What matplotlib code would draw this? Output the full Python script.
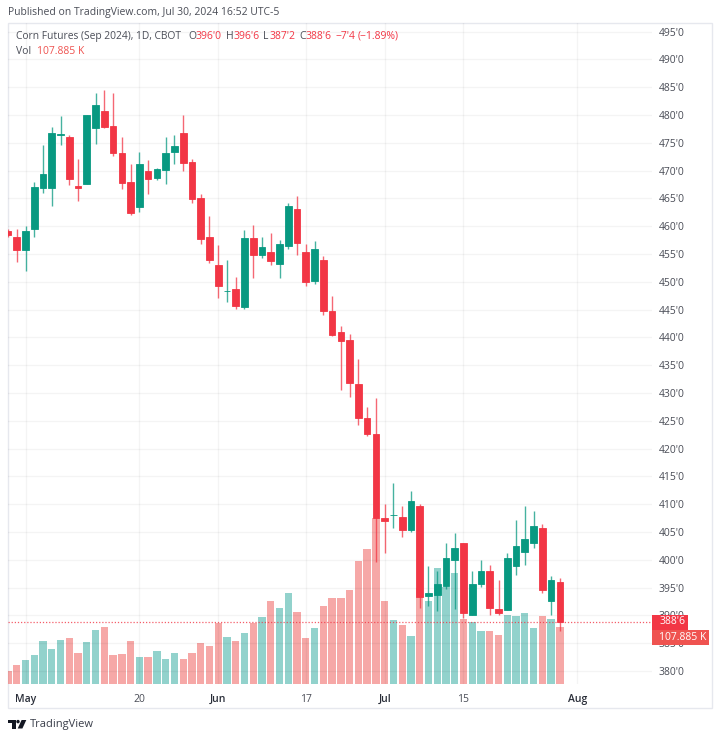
import numpy as np
import matplotlib
matplotlib.use('Agg')
import matplotlib.pyplot as plt
from matplotlib.patches import Rectangle, Polygon, Circle

plt.rcParams['font.family'] = ['Open Sans', 'DejaVu Sans']

# first bar is Apr 29, index 2 is May 1
opens = [459.13, 458.11, 455.72, 459.49, 466.87, 466.87, 476.40, 476.04, 467.23, 467.59, 477.71, 480.72, 478.02, 473.16,
         467.95, 463.45, 469.92, 468.75, 470.10, 473.34, 476.76, 471.54, 465.07, 458.05, 453.02, 448.30, 448.76, 445.46,
         457.87, 454.82, 455.36, 453.20, 456.43, 463.09, 455.36, 450.14, 453.92, 444.74, 440.97, 439.53, 431.61, 425.50,
         422.62, 407.51, 408.00, 407.75, 405.35, 409.67, 393.54, 393.66, 395.28, 399.96, 403.07, 390.07, 395.64, 397.98,
         391.15, 390.97, 398.88, 401.46, 403.02, 405.77, 392.64, 396.00]
highs = [459.50, 459.49, 460.09, 467.95, 474.60, 477.84, 479.82, 476.40, 472.08, 480.00, 483.95, 484.49, 483.95, 476.04,
         471.18, 473.34, 471.90, 470.46, 476.04, 476.40, 480.00, 472.08, 465.79, 461.83, 456.62, 453.92, 450.86, 459.31,
         460.21, 458.05, 458.77, 457.51, 464.17, 465.43, 456.80, 457.33, 454.64, 447.44, 442.05, 440.61, 436.11, 427.48,
         429.10, 410.03, 413.81, 409.72, 412.37, 410.03, 398.88, 397.98, 403.07, 404.82, 403.07, 397.98, 399.96, 399.06,
         396.36, 401.22, 407.15, 409.67, 408.77, 406.43, 397.08, 396.75]
lows = [458.00, 453.61, 452.00, 458.05, 465.97, 463.63, 474.60, 467.41, 464.53, 467.59, 474.78, 477.66, 472.62, 466.69,
        462.01, 462.55, 465.79, 468.31, 467.59, 471.18, 469.92, 464.17, 456.80, 453.38, 447.08, 446.36, 445.16, 445.10,
        450.68, 454.28, 453.02, 450.68, 455.89, 454.82, 449.24, 449.60, 444.03, 440.25, 430.53, 429.28, 424.24, 422.26,
        399.60, 401.22, 405.71, 404.10, 405.05, 391.38, 391.74, 390.79, 394.80, 391.15, 389.58, 390.07, 395.10, 390.07,
        390.07, 390.97, 397.32, 399.06, 402.17, 394.08, 390.07, 387.25]
closes = [458.41, 455.72, 459.13, 467.05, 469.39, 476.76, 476.50, 468.49, 466.87, 480.00, 481.85, 477.84, 473.16, 467.77,
          462.37, 471.18, 468.49, 470.28, 473.16, 474.48, 471.36, 464.89, 457.69, 453.92, 449.24, 448.38, 445.70, 457.87,
          454.82, 456.25, 453.74, 456.80, 463.63, 456.97, 449.96, 455.89, 444.74, 440.43, 439.35, 431.79, 425.50, 422.62,
          407.51, 406.97, 408.10, 405.41, 410.57, 393.31, 394.02, 395.70, 400.32, 402.12, 390.43, 395.70, 397.98, 391.33,
          390.43, 400.32, 402.48, 403.79, 406.08, 394.56, 396.36, 388.75]
volumes = [25, 36, 45, 55, 81, 66, 83, 87, 59, 79, 102, 108, 55, 56, 81, 51, 51, 62, 47, 59, 47, 59, 77, 72, 115, 88, 81,
           96, 115, 126, 156, 143, 171, 136, 87, 106, 147, 162, 162, 177, 232, 254, 313, 156, 121, 111, 90, 181, 156,
           218, 183, 209, 122, 117, 100, 100, 93, 130, 129, 134, 105, 129, 122, 107.885]

first_bar = -2
price_ticks = list(range(380, 500, 5))
date_ticks = [0, 13, 22, 32, 41, 50, 63]
date_labels = ['May', '20', 'Jun', '17', 'Jul', '15', 'Aug']
month_labels = ['May', 'Jun', 'Jul', 'Aug']

red = '#f23645'
green = '#089981'
text_col = '#4a4d57'
W, H = 720, 740

fig = plt.figure(figsize=(W / 100, H / 100), dpi=100, facecolor='white')


def fx(x):
    return x / W


def fy(y):
    return 1 - y / H


def put(x, y, s, color=text_col, size=7.5, **kw):
    fig.text(fx(x), fy(y), s, color=color, fontsize=size, va='center', **kw)


ax_vol = fig.add_axes([fx(8), fy(684), (652 - 8) / W, (684 - 23) / H], zorder=1)
ax = fig.add_axes([fx(8), fy(684), (652 - 8) / W, (684 - 23) / H], zorder=2)
ax.patch.set_alpha(0)

x_range = ((8 - 25.5) / 8.76, (652 - 25.5) / 8.76)

idx = np.arange(len(closes)) + first_bar
is_up = np.array(closes) >= np.array(opens)
vol_cols = ['#26a69a' if u else '#ef5350' for u in is_up]
ax_vol.bar(idx, volumes, width=0.84, color=vol_cols, alpha=0.5, linewidth=0)
ax_vol.set_xlim(x_range)
ax_vol.set_ylim(0, 1245)
ax_vol.axis('off')

cols = [green if u else red for u in is_up]
ax.vlines(idx, lows, highs, colors=cols, linewidth=1, alpha=0.75, zorder=3)
bottoms = np.minimum(opens, closes)
heights = np.abs(np.array(closes) - np.array(opens))
ax.bar(idx, heights, bottom=bottoms, width=0.76, color=cols, edgecolor=cols, linewidth=0.6, zorder=4)
ax.axhline(closes[-1], color=red, linestyle=(0, (1, 1.5)), linewidth=0.9, alpha=0.8, zorder=5)

ax.set_xlim(x_range)
ax.set_ylim(380 - 13 / 5.56, 380 + 648 / 5.56)
ax.set_axisbelow(True)
ax.grid(True, color='black', alpha=0.045, linewidth=1)
for s in ax.spines.values():
    s.set_visible(False)
ax.yaxis.tick_right()
ax.set_yticks(price_ticks)
ax.set_yticklabels([f"{p}'0" for p in price_ticks], color=text_col, fontsize=7.5)
ax.set_xticks(date_ticks)
ax.set_xticklabels(date_labels, color=text_col, fontsize=7.5)
for lab in ax.get_xticklabels():
    if lab.get_text() in month_labels:
        lab.set_fontweight('semibold')
        lab.set_color('#2a2e39')
ax.tick_params(axis='y', length=0, pad=5)
ax.tick_params(axis='x', length=0, pad=7)

# outer frame
fig.add_artist(Rectangle((fx(8), fy(708)), 704 / W, 685 / H, fill=False, edgecolor='#e6e8ee',
                         linewidth=1, transform=fig.transFigure))

# last value labels on the price scale
fig.add_artist(Rectangle((fx(652), fy(630)), 36 / W, 15 / H, facecolor=red, edgecolor='none',
                         transform=fig.transFigure, zorder=6))
fig.add_artist(Rectangle((fx(652), fy(645)), 57 / W, 15 / H, facecolor='#ef5350', edgecolor='none',
                         transform=fig.transFigure, zorder=6))
put(659, 622, "388'6", color='white', zorder=7)
put(659, 637.5, '107.885 K', color='white', zorder=7)

# header and legend
put(8.5, 13, 'Published on TradingView.com, Jul 30, 2024 16:52 UTC-5')
put(15.7, 36.5, 'Corn Futures (Sep 2024), 1D, CBOT', size=7.35)
put(188, 36.5, 'O')
put(195.5, 36.5, "396'0", color=red)
put(226, 36.5, 'H')
put(233, 36.5, "396'6", color=red)
put(262.7, 36.5, 'L')
put(269, 36.5, "387'2", color=red)
put(299, 36.5, 'C')
put(306, 36.5, "388'6", color=red)
put(336, 36.5, "\u22127'4", color=red)
put(357.5, 36.5, '(\u22121.89%)', color=red)
put(15.7, 51.5, 'Vol')
put(36.7, 51.5, '107.885 K', color='#ef5350')

# logo
logo = '#131722'
fig.add_artist(Polygon([(fx(8.3), fy(720)), (fx(15.5), fy(720)), (fx(15.5), fy(728.5)), (fx(11.5), fy(728.5)),
                        (fx(11.5), fy(723.2)), (fx(8.3), fy(723.2))], closed=True, facecolor=logo,
                       edgecolor='none', transform=fig.transFigure))
fig.add_artist(Circle((fx(18), fy(721.6)), 1.7 / W, facecolor=logo, edgecolor='none', transform=fig.transFigure))
fig.add_artist(Polygon([(fx(21.6), fy(720)), (fx(26.3), fy(720)), (fx(22.4), fy(728.5)), (fx(17.7), fy(728.5))],
                       closed=True, facecolor=logo, edgecolor='none', transform=fig.transFigure))
put(29.5, 724.5, 'TradingView', color='#3a3e4a', size=8.0)

fig.savefig('out.png', dpi=100)
